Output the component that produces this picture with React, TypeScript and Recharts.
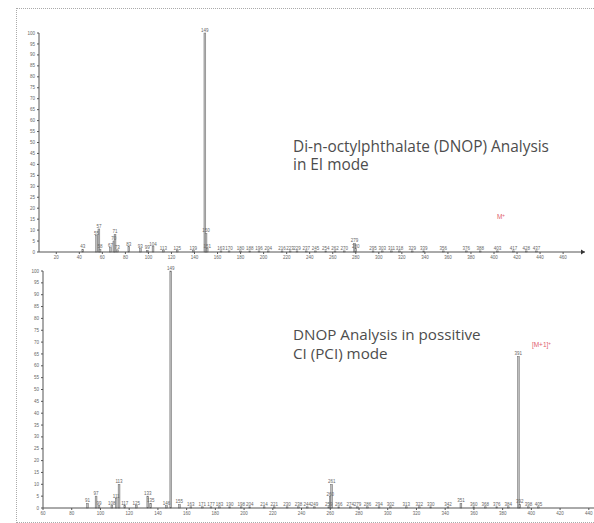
import React from "react";
import { BarChart, Bar, XAxis, YAxis, LabelList, ReferenceDot } from "recharts";

// EI mode spectrum (top)
const eiMz = [43, 55, 57, 58, 67, 70, 71, 73, 83, 93, 99, 104, 113, 125, 139, 149, 150, 151, 163, 170, 180, 188, 196, 204, 216, 223, 229, 237, 245, 254, 262, 270, 279, 280, 295, 303, 311, 318, 329, 339, 356, 376, 388, 403, 417, 428, 437];
const eiAbundance = [1.2, 7.5, 10.5, 1.2, 2, 5, 8, 1, 2.5, 1.5, 0.8, 2.5, 0.6, 0.6, 0.6, 100, 8.5, 1.5, 0.5, 0.5, 0.5, 0.5, 0.5, 0.5, 0.5, 0.5, 0.5, 0.5, 0.5, 0.5, 0.5, 0.5, 4, 1.5, 0.5, 0.5, 0.5, 0.5, 0.5, 0.5, 0.5, 0.5, 0.5, 0.5, 0.5, 0.5, 0.5];
const eiTicks = [20, 40, 60, 80, 100, 120, 140, 160, 180, 200, 220, 240, 260, 280, 300, 320, 340, 360, 380, 400, 420, 440, 460];

// PCI mode spectrum (bottom)
const pciMz = [91, 97, 99, 108, 111, 113, 117, 125, 133, 135, 146, 149, 155, 163, 171, 177, 183, 190, 198, 204, 214, 221, 230, 238, 244, 249, 259, 260, 261, 266, 274, 279, 286, 294, 302, 313, 322, 330, 342, 351, 360, 368, 376, 384, 391, 392, 398, 405];
const pciAbundance = [2, 5, 1, 1, 4, 10, 1, 1, 5, 2, 1, 100, 1.5, 0.5, 0.5, 0.5, 0.5, 0.5, 0.5, 0.5, 0.5, 0.5, 0.5, 0.5, 0.5, 0.5, 0.5, 4.8, 10, 0.5, 0.5, 0.5, 0.5, 0.5, 0.5, 0.5, 0.5, 0.5, 0.5, 2, 0.5, 0.5, 0.5, 0.5, 64, 1.5, 0.5, 0.5];
const pciTicks = [60, 80, 100, 120, 140, 160, 180, 200, 220, 240, 260, 280, 300, 320, 340, 360, 380, 400, 420, 440];

const yTicks = [0, 5, 10, 15, 20, 25, 30, 35, 40, 45, 50, 55, 60, 65, 70, 75, 80, 85, 90, 95, 100];

const eiData = eiMz.map((mz, i) => ({ mz, abundance: eiAbundance[i] }));
const pciData = pciMz.map((mz, i) => ({ mz, abundance: pciAbundance[i] }));

const AXIS = "#555";
const TICK = { fontSize: 4.5, fill: "#666" };

const Stick = (props: any) => {
  const { x, y, width, height } = props;
  if (height == null || height <= 0) return null;
  const cx = x + width / 2;
  return <rect x={cx - 0.9} y={y} width={1.8} height={height} fill="#bdbdbd" stroke="#6a6a6a" strokeWidth={0.5} />;
};

const Arrow = (props: any) => {
  const { cx, cy } = props;
  return <path d={`M${cx - 4},${cy - 2.5} L${cx},${cy} L${cx - 4},${cy + 2.5} Z`} fill="#333" />;
};

const redLabel = (text: string, sup: string) => (props: any) => (
  <text x={props.cx} y={props.cy} textAnchor="middle" fontSize={6.5} fill="#e0606e" fontFamily="Liberation Sans">
    {text}
    <tspan dy={-2} fontSize={4.5}>{sup}</tspan>
  </text>
);

function Spectrum({ data, domain, ticks, width, height, margin, children }: any) {
  return (
    <BarChart width={width} height={height} data={data} margin={margin} style={{ fontFamily: "Liberation Sans" }}>
      <XAxis
        type="number"
        dataKey="mz"
        domain={domain}
        ticks={ticks}
        interval={0}
        allowDataOverflow
        height={18}
        tickSize={2}
        tick={TICK}
        stroke={AXIS}
      />
      <YAxis
        type="number"
        domain={[0, 100]}
        ticks={yTicks}
        interval={0}
        width={15}
        tickSize={2}
        tick={TICK}
        stroke={AXIS}
      />
      <Bar dataKey="abundance" shape={<Stick />} isAnimationActive={false}>
        <LabelList dataKey="mz" position="top" offset={1} style={{ fontSize: 4.5, fill: "#666" }} />
      </Bar>
      {children}
    </BarChart>
  );
}

const titleStyle: React.CSSProperties = {
  position: "absolute",
  fontFamily: "'Open Sans'",
  color: "#4d4d4d",
  whiteSpace: "nowrap",
};

export default function App() {
  return (
    <div style={{ position: "fixed", left: 0, top: 0, width: 594, height: 523, overflow: "hidden", background: "#fff" }}>
      <div style={{ position: "absolute", left: 16, top: 8, width: 620, height: 513, border: "1px dotted #aaa" }} />

      <div style={{ position: "absolute", left: 0, top: 0 }}>
        <Spectrum data={eiData} domain={[5, 479]} ticks={eiTicks} width={594} height={270} margin={{ top: 33, right: 9, left: 24, bottom: 0 }}>
          <ReferenceDot x={479} y={0} ifOverflow="visible" shape={<Arrow />} />
          <ReferenceDot x={406} y={15} ifOverflow="visible" shape={redLabel("M", "+")} />
        </Spectrum>
      </div>

      <div style={{ position: "absolute", left: 0, top: 260 }}>
        <Spectrum data={pciData} domain={[60, 445]} ticks={pciTicks} width={601} height={266} margin={{ top: 11, right: 5, left: 28, bottom: 0 }}>
          <ReferenceDot x={407} y={68} ifOverflow="visible" shape={redLabel("[M+1]", "+")} />
        </Spectrum>
      </div>

      <div style={{ ...titleStyle, left: 293, top: 138, fontSize: 15.4, lineHeight: "18px" }}>
        Di-n-octylphthalate (DNOP) Analysis
        <br />
        in EI mode
      </div>
      <div style={{ ...titleStyle, left: 293, top: 325, fontSize: 15.2, lineHeight: "19px" }}>
        DNOP Analysis in possitive
        <br />
        CI (PCI) mode
      </div>
    </div>
  );
}
